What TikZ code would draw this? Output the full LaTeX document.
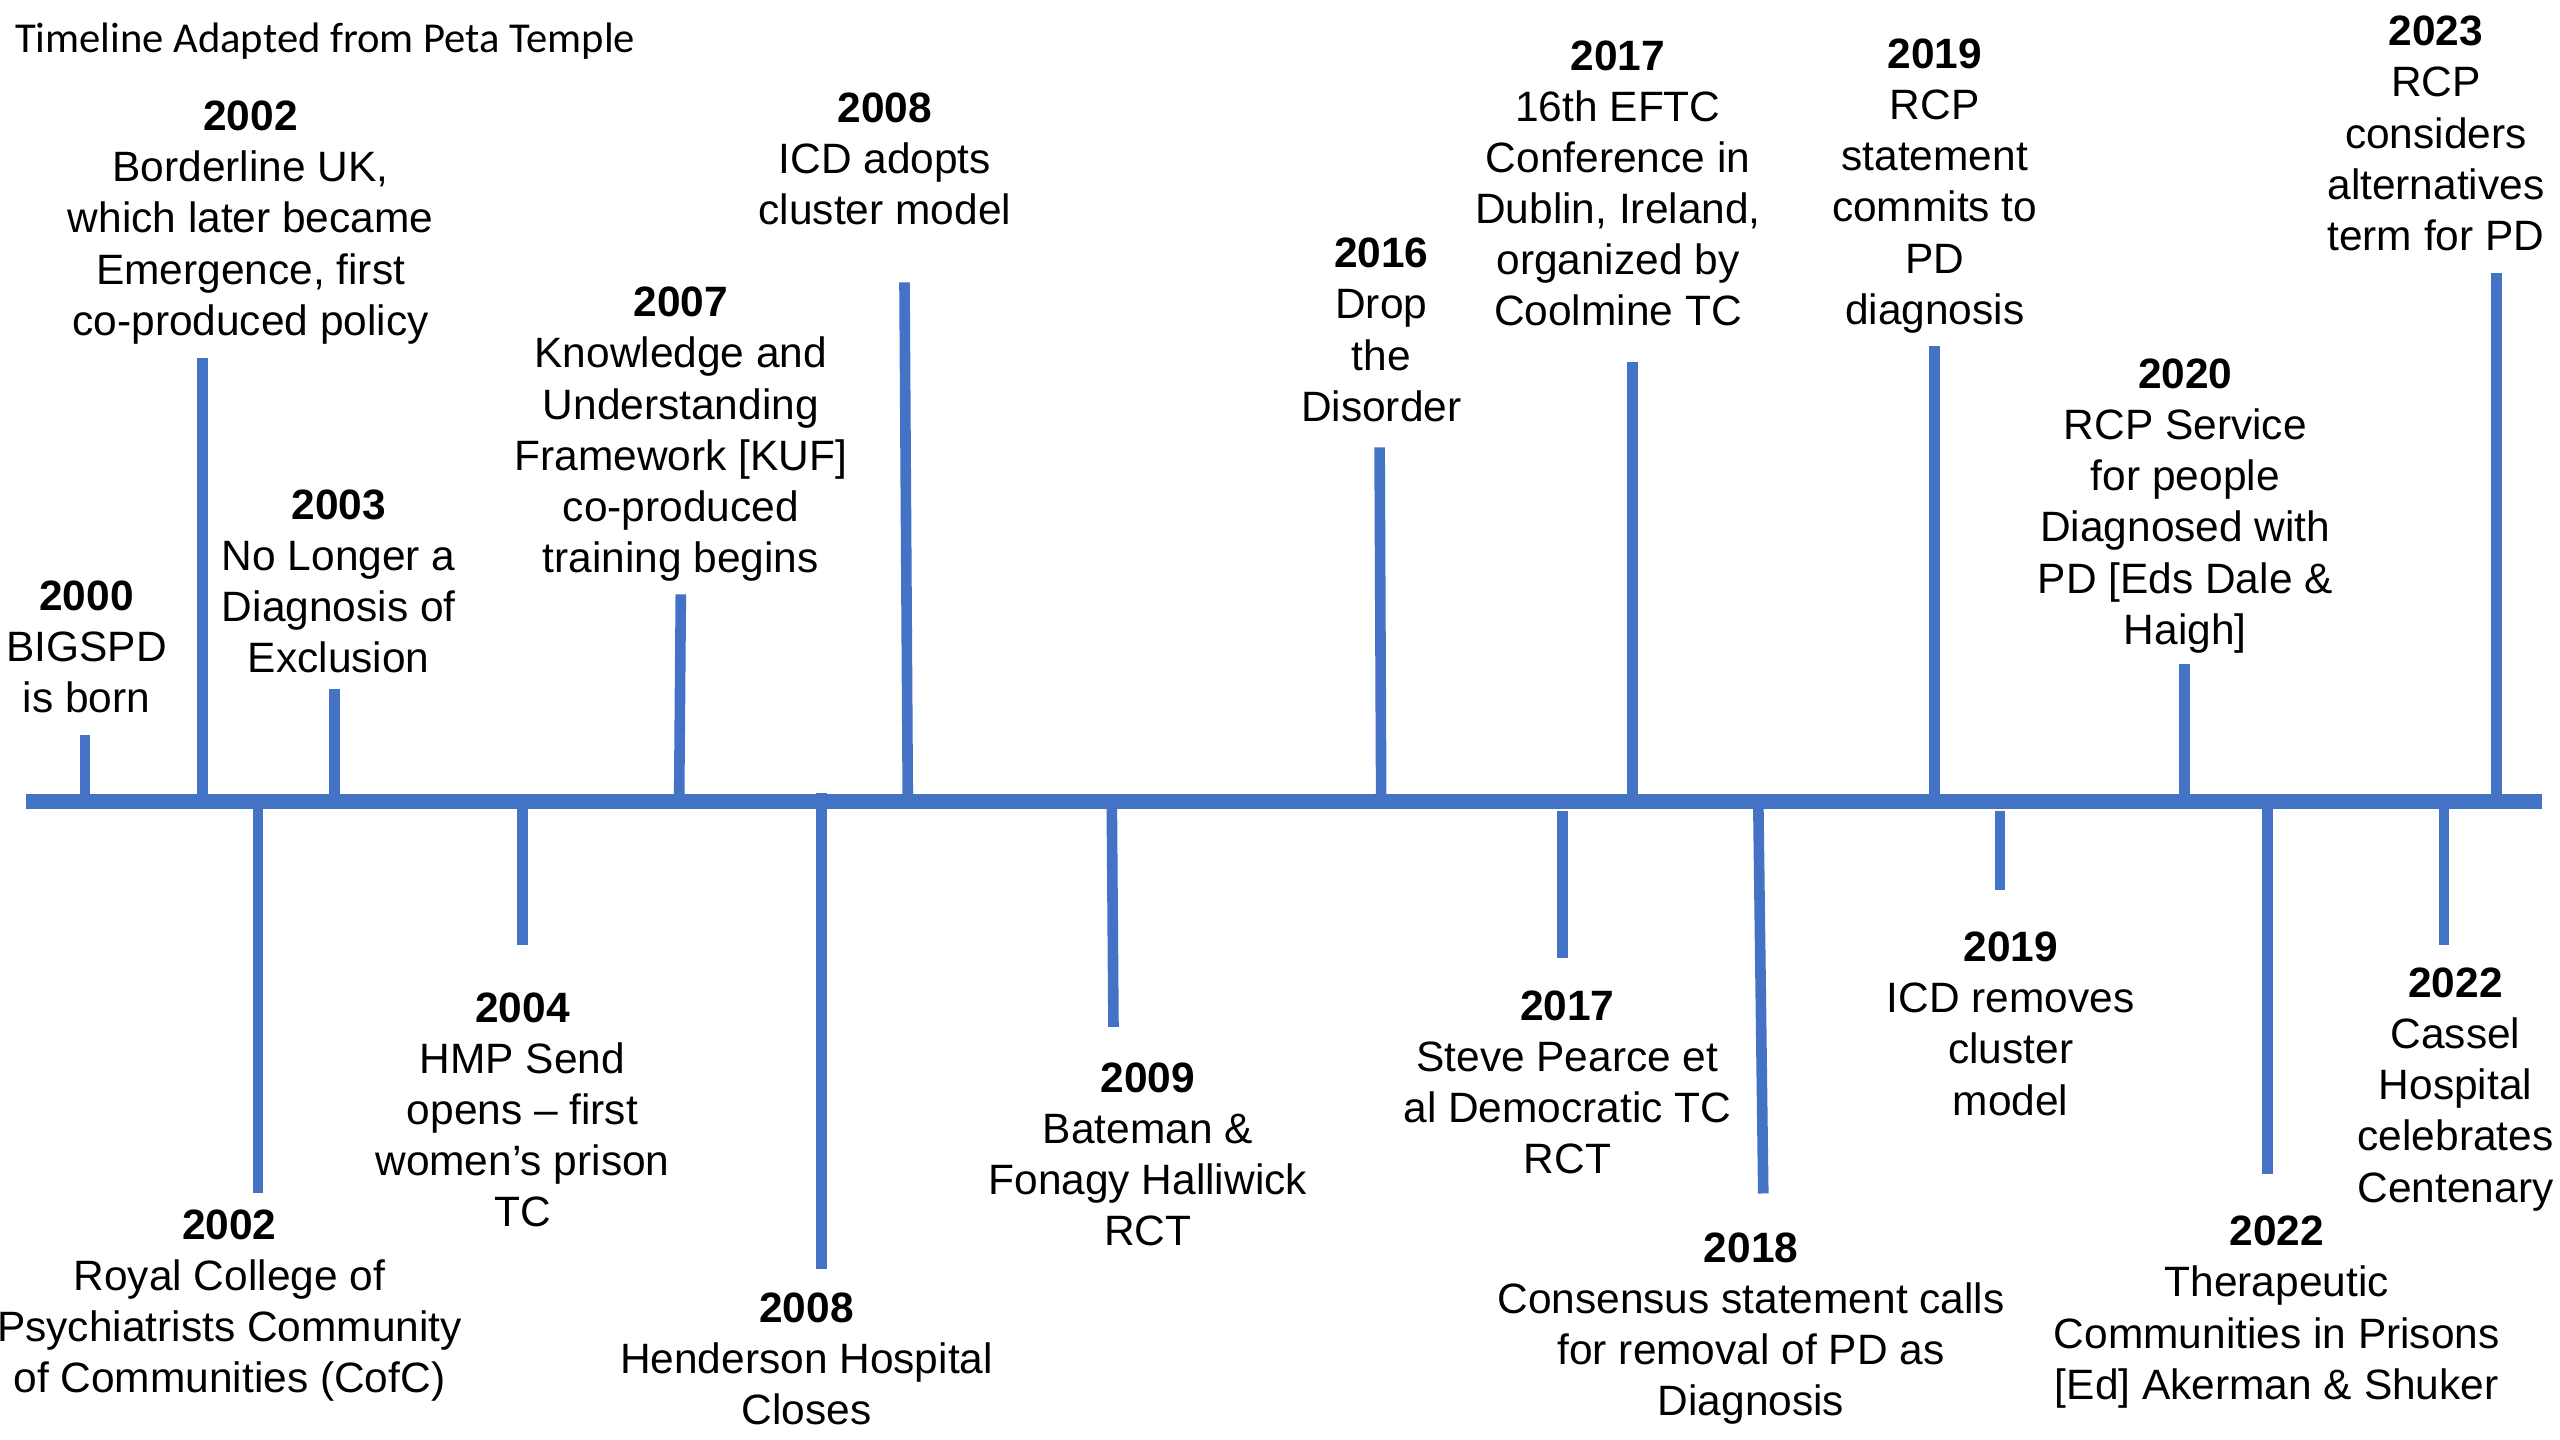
\documentclass[tikz,border=0pt]{standalone}
\usepackage{fontspec}
\setmainfont{Liberation Sans}
\newfontfamily\titlefont{Carlito}
\definecolor{tlblue}{HTML}{4472C4}
\begin{document}
\begin{tikzpicture}[x=1pt,y=-1pt,
  lbl/.style={align=center, inner sep=0pt, anchor=north, font=\fontsize{26}{31.3}\selectfont},
  axisline/.style={draw=tlblue, line width=9.2pt},
  tick/.style={draw=tlblue, line width=6.5pt}]
\useasboundingbox (0,0) rectangle (1568,882);
\fill[white] (0,0) rectangle (1568,882);

% title
\node[inner sep=0pt, anchor=west, font=\titlefont\fontsize{26.1}{30}\selectfont] (title) at (9,25.5) {Timeline Adapted from Peta Temple};

% main axis
\coordinate (axL) at (16,491);
\coordinate (axR) at (1557,491);
\draw[axisline] (axL) -- (axR);

% ticks above
\coordinate (b2000) at (52,487); \coordinate (e2000) at (52,450);
\coordinate (b2002a) at (124,487); \coordinate (e2002a) at (124,219);
\coordinate (b2003) at (205,487); \coordinate (e2003) at (205,422);
\coordinate (b2007) at (416,487); \coordinate (e2007) at (417,364);
\coordinate (b2008a) at (556,487); \coordinate (e2008a) at (554,173);
\coordinate (b2016) at (846,495); \coordinate (e2016) at (845,274);
\coordinate (b2017a) at (1000,495); \coordinate (e2017a) at (1000,222);
\coordinate (b2019a) at (1185,487); \coordinate (e2019a) at (1185,212);
\coordinate (b2020) at (1338,487); \coordinate (e2020) at (1338,407);
\coordinate (b2023) at (1529,487); \coordinate (e2023) at (1529,167);
% ticks below
\coordinate (b2002b) at (158,495); \coordinate (e2002b) at (158,731);
\coordinate (b2004) at (320,495); \coordinate (e2004) at (320,579);
\coordinate (b2008b) at (503,486); \coordinate (e2008b) at (503,777);
\coordinate (b2009) at (681,495); \coordinate (e2009) at (682,629);
\coordinate (b2017b) at (957,497); \coordinate (e2017b) at (957,587);
\coordinate (b2018) at (1077,495); \coordinate (e2018) at (1080,731);
\coordinate (b2019b) at (1225,497); \coordinate (e2019b) at (1225,545);
\coordinate (b2022a) at (1389,495); \coordinate (e2022a) at (1389,719);
\coordinate (b2022b) at (1497,495); \coordinate (e2022b) at (1497,579);

\foreach \t in {2000,2002a,2003,2007,2008a,2016,2017a,2019a,2020,2023,2002b,2004,2008b,2009,2017b,2018,2019b,2022a,2022b}
  \draw[tick] (b\t) -- (e\t);

% labels above
\node[lbl] (l2000) at (53,355.7) {\textbf{2000}\\BIGSPD\\is born};
\node[lbl] (l2002a) at (153.5,61.7) {\textbf{2002}\\Borderline UK,\\which later became\\Emergence, first\\co-produced policy};
\node[lbl] (l2003) at (207.5,299.7) {\textbf{2003}\\No Longer a\\Diagnosis of\\Exclusion};
\node[lbl] (l2007) at (417,175.7) {\textbf{2007}\\Knowledge and\\Understanding\\Framework [KUF]\\co-produced\\training begins};
\node[lbl] (l2008a) at (542,56.7) {\textbf{2008}\\ICD adopts\\cluster model};
\node[lbl] (l2016) at (846,145.7) {\textbf{2016}\\Drop\\the\\Disorder};
\node[lbl] (l2017a) at (991,24.7) {\textbf{2017}\\16th EFTC\\Conference in\\Dublin, Ireland,\\organized by\\Coolmine TC};
\node[lbl] (l2019a) at (1185,23.7) {\textbf{2019}\\RCP\\statement\\commits to\\PD\\diagnosis};
\node[lbl] (l2020) at (1338.5,219.7) {\textbf{2020}\\RCP Service\\for people\\Diagnosed with\\PD [Eds Dale \&\\Haigh]};
\node[lbl] (l2023) at (1492,9.7) {\textbf{2023}\\RCP\\considers\\alternatives\\term for PD};

% labels below
\node[lbl] (l2002b) at (140.5,740.7) {\textbf{2002}\\Royal College of\\Psychiatrists Community\\of Communities (CofC)};
\node[lbl] (l2004) at (320,607.7) {\textbf{2004}\\HMP Send\\opens – first\\women’s prison\\TC};
\node[lbl] (l2008b) at (494,791.7) {\textbf{2008}\\Henderson Hospital\\Closes};
\node[lbl] (l2009) at (703,650.7) {\textbf{2009}\\Bateman \&\\Fonagy Halliwick\\RCT};
\node[lbl] (l2017b) at (960,606.7) {\textbf{2017}\\Steve Pearce et\\al Democratic TC\\RCT};
\node[lbl] (l2018) at (1072.5,754.7) {\textbf{2018}\\Consensus statement calls\\for removal of PD as\\Diagnosis};
\node[lbl] (l2019b) at (1231.5,570.7) {\textbf{2019}\\ICD removes\\cluster\\model};
\node[lbl] (l2022a) at (1394.5,744.7) {\textbf{2022}\\Therapeutic\\Communities in Prisons\\{[Ed]} Akerman \& Shuker};
\node[lbl] (l2022b) at (1504,592.7) {\textbf{2022}\\Cassel\\Hospital\\celebrates\\Centenary};
\end{tikzpicture}
\end{document}
